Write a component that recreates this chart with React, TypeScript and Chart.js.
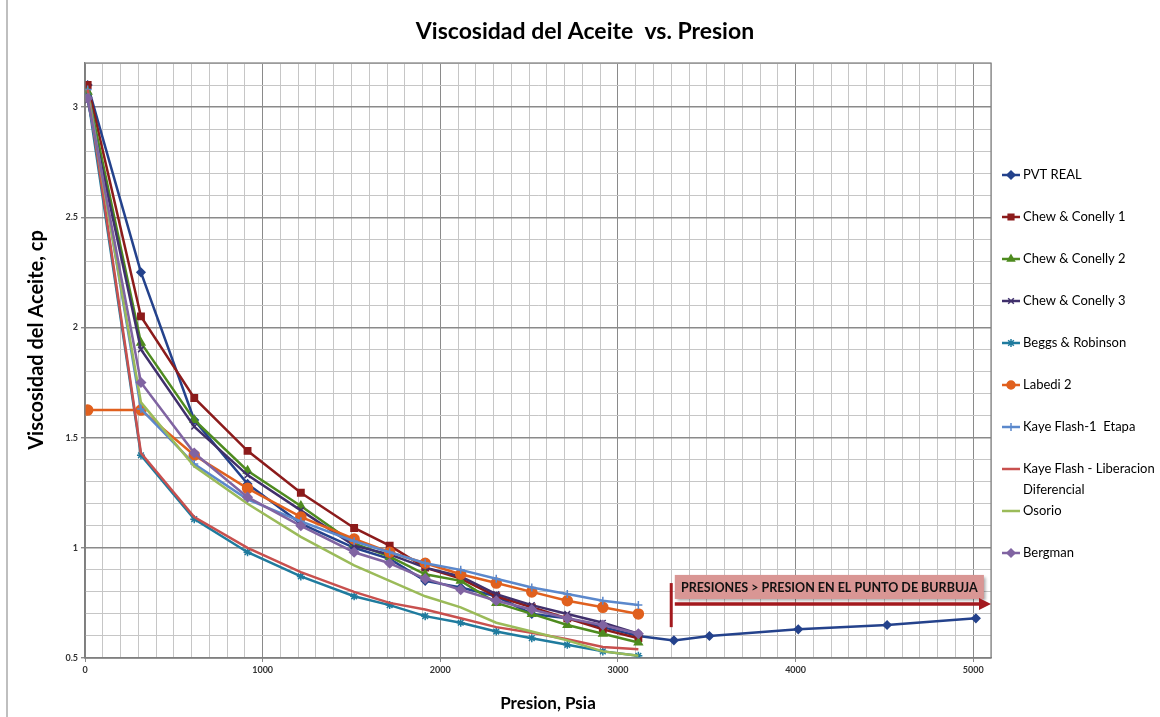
import React, { useEffect, useRef } from 'react';
import { Chart, registerables } from 'chart.js';
import { drawPoint } from 'chart.js/helpers';

Chart.register(...registerables);

// ---------- text ----------
const TITLE = 'Viscosidad del Aceite  vs. Presion';
const X_TITLE = 'Presion, Psia';
const Y_TITLE = 'Viscosidad del Aceite, cp';
const ANNOTATION = 'PRESIONES > PRESION EN EL PUNTO DE BURBUJA';

// ---------- data ----------
const PRESION = [15, 315, 615, 915, 1215, 1515, 1715, 1915, 2115, 2315, 2515, 2715, 2915, 3115];
const PRESION_PVT = [15, 315, 615, 915, 1215, 1515, 1715, 1915, 2115, 2315, 2515, 2715, 2915, 3115, 3315, 3515, 4015, 4515, 5015];

const PVT_REAL = [3.10, 2.25, 1.58, 1.29, 1.11, 1.00, 0.95, 0.85, 0.82, 0.78, 0.70, 0.68, 0.64, 0.60, 0.58, 0.60, 0.63, 0.65, 0.68];
const CHEW_CONELLY_1 = [3.10, 2.05, 1.68, 1.44, 1.25, 1.09, 1.01, 0.91, 0.86, 0.78, 0.73, 0.68, 0.63, 0.59];
const CHEW_CONELLY_2 = [3.07, 1.93, 1.58, 1.35, 1.19, 1.02, 0.96, 0.88, 0.85, 0.75, 0.70, 0.65, 0.61, 0.57];
const CHEW_CONELLY_3 = [3.03, 1.90, 1.55, 1.33, 1.17, 1.01, 0.97, 0.91, 0.87, 0.79, 0.74, 0.70, 0.66, 0.61];
const BEGGS_ROBINSON = [3.05, 1.42, 1.13, 0.98, 0.87, 0.78, 0.74, 0.69, 0.66, 0.62, 0.59, 0.56, 0.53, 0.51];
const LABEDI_2 = [1.625, 1.625, 1.42, 1.27, 1.14, 1.04, 0.98, 0.93, 0.88, 0.84, 0.80, 0.76, 0.73, 0.70];
const KAYE_FLASH_1 = [3.08, 1.63, 1.38, 1.22, 1.12, 1.03, 0.98, 0.93, 0.90, 0.86, 0.82, 0.79, 0.76, 0.74];
const KAYE_FLASH_LD = [3.08, 1.43, 1.14, 1.00, 0.89, 0.80, 0.75, 0.72, 0.68, 0.64, 0.615, 0.585, 0.55, 0.54];
const OSORIO = [3.06, 1.66, 1.37, 1.20, 1.05, 0.92, 0.85, 0.78, 0.73, 0.66, 0.62, 0.58, 0.53, 0.51];
const BERGMAN = [3.04, 1.75, 1.43, 1.23, 1.10, 0.98, 0.93, 0.86, 0.81, 0.76, 0.72, 0.68, 0.65, 0.61];

const SERIES_NAMES = [
  'PVT REAL',
  'Chew & Conelly 1',
  'Chew & Conelly 2',
  'Chew & Conelly 3',
  'Beggs & Robinson',
  'Labedi 2',
  'Kaye Flash-1  Etapa',
  'Kaye Flash - Liberacion Diferencial',
  'Osorio',
  'Bergman',
];
const SERIES_VALUES = [
  PVT_REAL, CHEW_CONELLY_1, CHEW_CONELLY_2, CHEW_CONELLY_3, BEGGS_ROBINSON,
  LABEDI_2, KAYE_FLASH_1, KAYE_FLASH_LD, OSORIO, BERGMAN,
];
const SERIES_X = [PRESION_PVT, PRESION, PRESION, PRESION, PRESION, PRESION, PRESION, PRESION, PRESION, PRESION];

// axis ranges / ticks
const X_MIN = 0;
const X_MAX = 5100;
const X_STEP = 100;
const X_LABEL_EVERY = 1000;
const Y_MIN = 0.5;
const Y_MAX = 3.2;
const Y_STEP = 0.1;
const Y_LABEL_EVERY = 0.5;

// annotation extents (data coordinates)
const ANN_BAR_X = 3300;
const ANN_BAR_Y = [0.64, 0.84];
const ANN_ARROW_Y = 0.745;
const ANN_ARROW_X = [3320, 5100];
const ANN_BOX_X = [3320, 5060];
const ANN_BOX_Y = [0.768, 0.877];

// ---------- styles ----------
const COLORS = ['#24428C', '#8C1B1B', '#4E8B1F', '#40306C', '#1F7B9E', '#E0601E', '#5B88CC', '#C8504E', '#9BBB59', '#8064A2'];
const POINT_STYLES: any[] = ['rectRot', 'rect', 'triangle', 'crossRot', 'star', 'circle', 'cross', false, false, 'rectRot'];
const POINT_RADII = [4, 4.5, 4.5, 4, 4, 5, 4, 0, 0, 4.5];

const FONT = 'Lato, "Open Sans", sans-serif';

function isMultiple(v: number, step: number) {
  const r = v / step;
  return Math.abs(r - Math.round(r)) < 1e-6;
}

const decorPlugin = {
  id: 'decor',
  beforeDraw(chart: any) {
    const { ctx, width, height } = chart;
    ctx.save();
    ctx.fillStyle = '#ffffff';
    ctx.fillRect(0, 0, width, height);
    ctx.strokeStyle = '#bfbfbf';
    ctx.lineWidth = 2;
    ctx.beginPath();
    ctx.moveTo(7, 0);
    ctx.lineTo(7, height);
    ctx.stroke();
    ctx.restore();
  },
  afterDatasetsDraw(chart: any) {
    const { ctx, chartArea, scales } = chart;
    const xs = scales.x;
    const ys = scales.y;
    ctx.save();

    // plot frame
    ctx.strokeStyle = '#7f7f7f';
    ctx.lineWidth = 1.2;
    ctx.strokeRect(chartArea.left, chartArea.top, chartArea.right - chartArea.left, chartArea.bottom - chartArea.top);

    // annotation box
    const bx0 = xs.getPixelForValue(ANN_BOX_X[0]);
    const bx1 = xs.getPixelForValue(ANN_BOX_X[1]);
    const by0 = ys.getPixelForValue(ANN_BOX_Y[1]);
    const by1 = ys.getPixelForValue(ANN_BOX_Y[0]);
    ctx.save();
    ctx.shadowColor = 'rgba(0,0,0,0.35)';
    ctx.shadowBlur = 3;
    ctx.shadowOffsetX = 2;
    ctx.shadowOffsetY = 2;
    ctx.fillStyle = '#D99694';
    ctx.fillRect(bx0, by0, bx1 - bx0, by1 - by0);
    ctx.restore();
    ctx.fillStyle = '#111';
    ctx.font = `bold 12.5px ${FONT}`;
    ctx.textAlign = 'center';
    ctx.textBaseline = 'middle';
    ctx.fillText(ANNOTATION, (bx0 + bx1) / 2, (by0 + by1) / 2 + 1);

    // vertical bar
    const barX = xs.getPixelForValue(ANN_BAR_X);
    ctx.strokeStyle = '#A3191E';
    ctx.lineWidth = 3;
    ctx.beginPath();
    ctx.moveTo(barX, ys.getPixelForValue(ANN_BAR_Y[1]));
    ctx.lineTo(barX, ys.getPixelForValue(ANN_BAR_Y[0]));
    ctx.stroke();

    // arrow
    const ay = ys.getPixelForValue(ANN_ARROW_Y);
    const ax0 = xs.getPixelForValue(ANN_ARROW_X[0]);
    const ax1 = xs.getPixelForValue(ANN_ARROW_X[1]);
    ctx.lineWidth = 3.5;
    ctx.beginPath();
    ctx.moveTo(ax0, ay);
    ctx.lineTo(ax1 - 8, ay);
    ctx.stroke();
    ctx.fillStyle = '#A3191E';
    ctx.beginPath();
    ctx.moveTo(ax1, ay);
    ctx.lineTo(ax1 - 12, ay - 6);
    ctx.lineTo(ax1 - 12, ay + 6);
    ctx.closePath();
    ctx.fill();

    ctx.restore();
  },
  afterDraw(chart: any) {
    const { ctx } = chart;
    ctx.save();
    ctx.fillStyle = '#000';
    ctx.textAlign = 'center';
    ctx.textBaseline = 'middle';

    // title
    ctx.font = `bold 23px ${FONT}`;
    ctx.fillText(TITLE, 585, 32);

    // x title
    ctx.font = `bold 17px ${FONT}`;
    ctx.fillText(X_TITLE, 548, 704);

    // y title
    ctx.save();
    ctx.translate(37, 340);
    ctx.rotate(-Math.PI / 2);
    ctx.font = `bold 20px ${FONT}`;
    ctx.fillText(Y_TITLE, 0, 0);
    ctx.restore();

    // legend
    ctx.textAlign = 'left';
    ctx.font = `13px ${FONT}`;
    const lx0 = 1002;
    const lx1 = 1020;
    const tx = 1023;
    SERIES_NAMES.forEach((name, i) => {
      const y = 175 + 42 * i;
      ctx.strokeStyle = COLORS[i];
      ctx.fillStyle = COLORS[i];
      ctx.lineWidth = 2.5;
      ctx.beginPath();
      ctx.moveTo(lx0, y);
      ctx.lineTo(lx1, y);
      ctx.stroke();
      if (POINT_STYLES[i]) {
        ctx.lineWidth = 1.5;
        drawPoint(ctx, { pointStyle: POINT_STYLES[i], radius: Math.min(POINT_RADII[i], 4), borderWidth: 1.5, rotation: 0 } as any, (lx0 + lx1) / 2, y);
      }
      ctx.fillStyle = '#000';
      // simple word wrap
      const words = name.split(' ');
      const lines: string[] = [];
      let cur = '';
      for (const w of words) {
        const test = cur ? cur + ' ' + w : w;
        if (ctx.measureText(test).width > 134 && cur) {
          lines.push(cur);
          cur = w;
        } else {
          cur = test;
        }
      }
      if (cur) lines.push(cur);
      lines.forEach((ln, k) => ctx.fillText(ln, tx, y + k * 21));
    });
    ctx.restore();
  },
};

export default function App() {
  const ref = useRef<HTMLCanvasElement>(null);
  useEffect(() => {
    const canvas = ref.current;
    if (!canvas) return;
    const datasets = SERIES_NAMES.map((name, i) => ({
      label: name,
      data: SERIES_VALUES[i].map((v, j) => ({ x: SERIES_X[i][j], y: v })),
      borderColor: COLORS[i],
      backgroundColor: COLORS[i],
      pointBackgroundColor: COLORS[i],
      pointBorderColor: COLORS[i],
      pointStyle: POINT_STYLES[i],
      pointRadius: POINT_RADII[i],
      pointBorderWidth: 1.5,
      borderWidth: 2.5,
      tension: 0,
      fill: false,
      order: SERIES_NAMES.length - i,
    }));
    const chart = new Chart(canvas, {
      type: 'line',
      data: { datasets },
      plugins: [decorPlugin],
      options: {
        responsive: false,
        animation: false,
        devicePixelRatio: 1,
        layout: { padding: { top: 63, right: 169, left: 0, bottom: 0 } },
        plugins: {
          legend: { display: false },
          title: { display: false },
          tooltip: { enabled: false },
        },
        scales: {
          x: {
            type: 'linear',
            min: X_MIN,
            max: X_MAX,
            afterFit: (s: any) => { s.height = 59; },
            ticks: {
              stepSize: X_STEP,
              autoSkip: false,
              maxRotation: 0,
              maxTicksLimit: 1000,
              padding: 3,
              color: '#333',
              font: { family: FONT, size: 9, weight: 'bold' },
              callback: (v: any) => (isMultiple(Number(v), X_LABEL_EVERY) ? String(Math.round(Number(v))) : ''),
            },
            grid: {
              color: (c: any) => (c.tick && isMultiple(c.tick.value, X_LABEL_EVERY) ? '#8a8a8a' : '#c6c6c6'),
              lineWidth: 1,
              tickLength: 4,
              tickColor: (c: any) => (c.tick && isMultiple(c.tick.value, X_LABEL_EVERY) ? '#8a8a8a' : 'rgba(0,0,0,0)'),
            },
            border: { display: true, color: '#7f7f7f', width: 1.2 },
          },
          y: {
            type: 'linear',
            min: Y_MIN,
            max: Y_MAX,
            afterFit: (s: any) => { s.width = 85; },
            ticks: {
              stepSize: Y_STEP,
              autoSkip: false,
              maxTicksLimit: 1000,
              padding: 3,
              color: '#333',
              font: { family: FONT, size: 9, weight: 'bold' },
              callback: (v: any) => (isMultiple(Number(v), Y_LABEL_EVERY) ? String(Number(Number(v).toFixed(2))) : ''),
            },
            grid: {
              color: (c: any) => (c.tick && isMultiple(c.tick.value, Y_LABEL_EVERY) ? '#8a8a8a' : '#c6c6c6'),
              lineWidth: (c: any) => (c.tick && isMultiple(c.tick.value, Y_LABEL_EVERY) ? 1.4 : 1),
              tickLength: 4,
              tickColor: (c: any) => (c.tick && isMultiple(c.tick.value, Y_LABEL_EVERY) ? '#8a8a8a' : 'rgba(0,0,0,0)'),
            },
            border: { display: true, color: '#7f7f7f', width: 1.2 },
          },
        },
      } as any,
    });
    return () => chart.destroy();
  }, []);
  return (
    <div style={{ position: 'fixed', left: 0, top: 0, width: 1160, height: 717, background: '#fff' }}>
      <canvas ref={ref} width={1160} height={717} style={{ display: 'block', width: 1160, height: 717 }} />
    </div>
  );
}
